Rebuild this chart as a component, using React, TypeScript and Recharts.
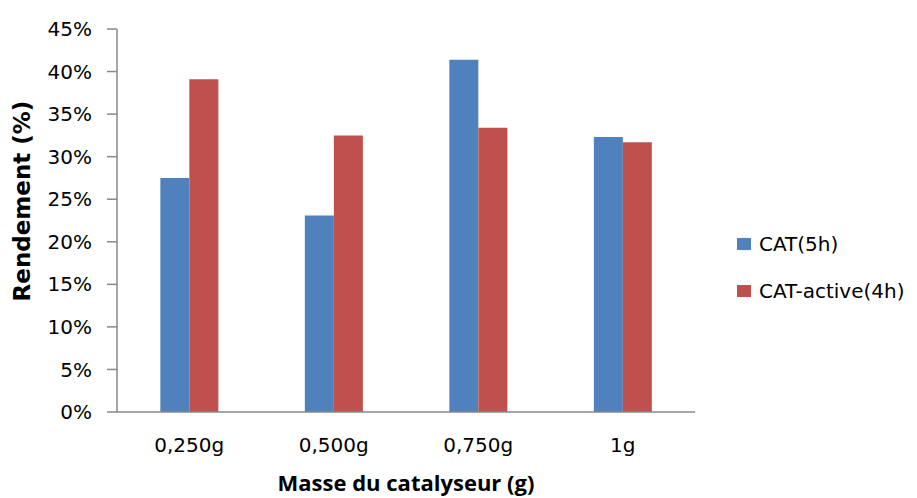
import React from 'react';
import { BarChart, Bar, XAxis, YAxis, Label } from 'recharts';

const categories = ['0,250g', '0,500g', '0,750g', '1g'];
const cat5h = [27.5, 23.1, 41.4, 32.3];
const catActive4h = [39.1, 32.5, 33.4, 31.7];
const yTicks = [0, 5, 10, 15, 20, 25, 30, 35, 40, 45];
const seriesNames = ['CAT(5h)', 'CAT-active(4h)'];
const seriesColors = ['#4F81BD', '#C0504D'];
const xTitle = 'Masse du catalyseur (g)';
const yTitle = 'Rendement (%)';

const data = categories.map((c, i) => ({ cat: c, s1: cat5h[i], s2: catActive4h[i] }));

const AXIS = '#888888';
const FONT = 'DejaVu Sans';

export default function App() {
  return (
    <div style={{ position: 'absolute', left: 0, top: 0, width: 917, height: 498, background: '#fff' }}>
      <BarChart
        width={917}
        height={498}
        data={data}
        margin={{ top: 29, right: 222, left: 0, bottom: 0 }}
        barCategoryGap="30%"
        barGap={0}
      >
        <XAxis
          dataKey="cat"
          height={86}
          tickLine={false}
          tickSize={0}
          tickMargin={26}
          axisLine={{ stroke: AXIS, strokeWidth: 1.5 }}
          tick={{ fontSize: 20, fontFamily: FONT, fill: '#000' }}
          interval={0}
        >
          <Label
            content={() => (
              <text x={406} y={491} textAnchor="middle" fontFamily="Open Sans" fontWeight="bold" fontSize={22} fill="#000">
                {xTitle}
              </text>
            )}
          />
        </XAxis>
        <YAxis
          width={117}
          domain={[0, 45]}
          ticks={yTicks}
          interval={0}
          tickFormatter={(v: number) => `${v}%`}
          tickSize={10}
          tickMargin={15}
          tickLine={{ stroke: AXIS, strokeWidth: 1.5 }}
          axisLine={{ stroke: AXIS, strokeWidth: 1.5 }}
          tick={{ fontSize: 20, fontFamily: FONT, fill: '#000' }}
        >
          <Label
            content={() => (
              <text
                x={30}
                y={201}
                transform="rotate(-90 30 201)"
                textAnchor="middle"
                fontFamily={FONT}
                fontWeight="bold"
                fontSize={23}
                fill="#000"
              >
                {yTitle}
              </text>
            )}
          />
        </YAxis>
        <Bar dataKey="s1" name={seriesNames[0]} fill={seriesColors[0]} isAnimationActive={false} />
        <Bar dataKey="s2" name={seriesNames[1]} fill={seriesColors[1]} isAnimationActive={false} />
      </BarChart>
      {seriesNames.map((name, i) => (
        <div
          key={name}
          style={{
            position: 'absolute',
            left: 737,
            top: 231 + i * 47,
            height: 26,
            display: 'flex',
            alignItems: 'center',
            fontFamily: FONT,
            fontSize: 20,
            color: '#000',
            whiteSpace: 'nowrap',
          }}
        >
          <span style={{ display: 'inline-block', width: 14, height: 12, background: seriesColors[i], marginRight: 8 }} />
          <span>{name}</span>
        </div>
      ))}
    </div>
  );
}
